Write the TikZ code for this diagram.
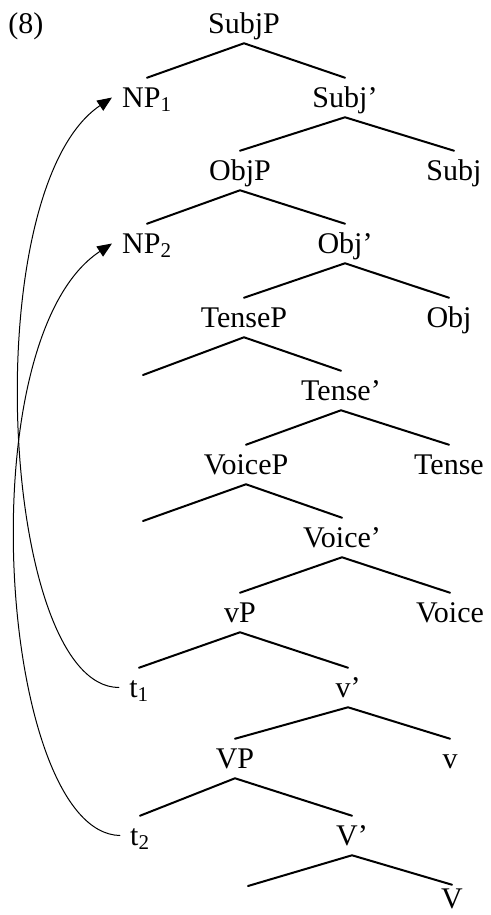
\documentclass[tikz,border=0pt]{standalone}
\usepackage{fontspec}
\setmainfont{Liberation Serif}
\usetikzlibrary{arrows.meta}

\begin{document}
\begin{tikzpicture}
	[line cap=round,line join=round,>={Triangle[length=11pt,width=9pt]},x=0.75pt,y=-0.75pt,
	lbl/.style={anchor=base,inner ysep=0pt,inner xsep=7.5pt,text height=21.75pt,text depth=7.5pt,font=\fontsize{22.5pt}{26pt}\selectfont},
	branch/.style={line width=1.5pt},
	move/.style={->,line width=0.75pt}]
	\useasboundingbox (0,0) rectangle (490,915);
	\node [lbl,anchor=base west,inner xsep=0pt] (ex) at (8,33) {(8)};
	\node [lbl] (subjp) at (244,33) {SubjP};
	\node [lbl] (np1) at (147,107) {NP\textsubscript{1}};
	\node [lbl] (subjbar) at (345,107) {Subj’};
	\node [lbl] (objp) at (240,180) {ObjP};
	\node [lbl] (subj) at (454,180) {Subj};
	\node [lbl] (np2) at (147,253) {NP\textsubscript{2}};
	\node [lbl] (objbar) at (345,253) {Obj’};
	\node [lbl] (tensep) at (244,327) {TenseP};
	\node [lbl] (obj) at (449,327) {Obj};
	\node [lbl] (tensebar) at (341,400) {Tense’};
	\node [lbl] (voicep) at (246,474) {VoiceP};
	\node [lbl] (tense) at (449,474) {Tense};
	\node [lbl] (voicebar) at (342,547) {Voice’};
	\node [lbl] (vsmallp) at (240,622) {vP};
	\node [lbl] (voice) at (450,622) {Voice};
	\node [lbl] (t1) at (139,697) {t\textsubscript{1}};
	\node [lbl] (vsmallbar) at (348,697) {v’};
	\node [lbl] (vbigp) at (235,768) {VP};
	\node [lbl] (vsmall) at (450,768) {v};
	\node [lbl] (t2) at (140,845) {t\textsubscript{2}};
	\node [lbl] (vbigbar) at (352,845) {V’};
	\node [lbl,text height=17.25pt,text depth=0pt] (vbig) at (452,908) {V};
	\coordinate (tensespec) at (143,375);
	\coordinate (voicespec) at (143,521);
	\coordinate (vcomp) at (248,886);
	\draw [branch] (np1.north) -- (subjp.south) -- (subjbar.north);
	\draw [branch] (objp.north) -- (subjbar.south) -- (subj.north);
	\draw [branch] (np2.north) -- (objp.south) -- (objbar.north);
	\draw [branch] (tensep.north) -- (objbar.south) -- (obj.north);
	\draw [branch] (tensespec) -- (tensep.south) -- (tensebar.north);
	\draw [branch] (voicep.north) -- (tensebar.south) -- (tense.north);
	\draw [branch] (voicespec) -- (voicep.south) -- (voicebar.north);
	\draw [branch] (vsmallp.north) -- (voicebar.south) -- (voice.north);
	\draw [branch] (t1.north) -- (vsmallp.south) -- (vsmallbar.north);
	\draw [branch] (vbigp.north) -- (vsmallbar.south) -- (vsmall.north);
	\draw [branch] (t2.north) -- (vbigp.south) -- (vbigbar.north);
	\draw [branch] (vcomp) -- (vbigbar.south) -- (vbig.north);
	\draw [move] (t1.west) .. controls (0,687) and (-25,190) .. (np1.west);
	\draw [move] (t2.west) .. controls (0,833) and (-35,340) .. (np2.west);
\end{tikzpicture}
\end{document}
